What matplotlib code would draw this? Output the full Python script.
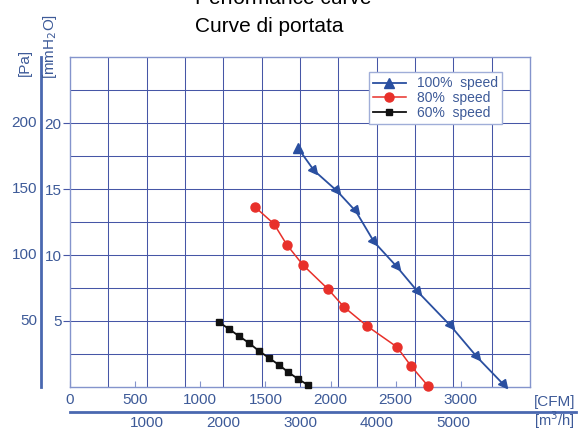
import numpy as np
import matplotlib.pyplot as plt
from matplotlib import transforms
from matplotlib.markers import MarkerStyle
from matplotlib.lines import Line2D

plt.rcParams['font.family'] = ['Liberation Sans', 'DejaVu Sans']

# flow in m3/h, pressure in mmH2O
x100 = [2974, 3183, 3483, 3730, 3965, 4265, 4539, 4970, 5309, 5661]
y100 = [18.1, 16.4, 14.85, 13.3, 11.0, 9.1, 7.2, 4.6, 2.27, 0.15]
x80 = [2413, 2661, 2830, 3039, 3365, 3574, 3874, 4265, 4448, 4670]
y80 = [13.64, 12.35, 10.76, 9.24, 7.42, 6.06, 4.62, 3.03, 1.59, 0.08]
x60 = [1943, 2074, 2204, 2335, 2465, 2596, 2726, 2843, 2974, 3104]
y60 = [4.92, 4.39, 3.86, 3.33, 2.73, 2.20, 1.67, 1.14, 0.61, 0.15]

mm_ticks = [5, 10, 15, 20]
pa_labels = ['50', '100', '150', '200']
cfm_ticks = [0, 500, 1000, 1500, 2000, 2500, 3000]
m3h_ticks = [1000, 2000, 3000, 4000, 5000]

grid_c = '#4656a6'
txt_c = '#3d5a98'
blue = '#2a4fa0'
red = '#e8302a'

fig = plt.figure(figsize=(5.79, 4.32), dpi=100)
ax = fig.add_axes([70/579, 1-387/432, 460/579, 330/432])

ax.set_xlim(0, 6000)
ax.set_ylim(0, 25)
ax.set_xticks(np.arange(500, 6000, 500), minor=True)
ax.set_xticks(m3h_ticks)
ax.set_yticks(np.arange(2.5, 25, 2.5), minor=True)
ax.set_yticks(mm_ticks)
ax.grid(True, which='both', color=grid_c, lw=0.75)
ax.set_axisbelow(True)
for s in ax.spines.values():
    s.set_color('#8494cc')
    s.set_linewidth(1.0)

ax.tick_params(axis='x', which='both', length=0, pad=21, labelsize=11, labelcolor=txt_c)
ax.tick_params(axis='y', which='major', length=5, width=0.8, color=grid_c, pad=1,
               labelsize=11, labelcolor=txt_c)
ax.tick_params(axis='y', which='minor', length=0)

sec = ax.secondary_xaxis('bottom', functions=(lambda v: v / 1.699, lambda v: v * 1.699))
sec.set_xticks(cfm_ticks)
sec.tick_params(direction='in', length=4, width=0.8, color='#8494cc', pad=4,
                labelsize=11, labelcolor=txt_c)
sec.spines['bottom'].set_visible(False)

# curves
ax.plot(x100, y100, '-', color=blue, lw=1.3, marker='^', ms=6.5, markevery=[0],
        label='100%  speed', zorder=3)
rot = MarkerStyle('^', transform=transforms.Affine2D().rotate_deg(-140))
ax.plot(x100[1:], y100[1:], ls='none', marker=rot, ms=6.5, color=blue, zorder=3,
        clip_on=False)
ax.plot(x80, y80, '-', color=red, lw=1.1, marker='o', ms=6.5, label='80%  speed',
        zorder=3, clip_on=False)
ax.plot(x60, y60, '-', color='#111111', lw=1.3, marker='s', ms=5, label='60%  speed',
        zorder=3, clip_on=False)

leg = ax.legend(loc='upper right', bbox_to_anchor=(0.955, 0.975), fontsize=10,
                labelspacing=0.05, handlelength=2.4, handletextpad=0.8,
                borderpad=0.3, fancybox=False, framealpha=1, labelcolor=txt_c)
leg.get_frame().set_edgecolor('#a0aed8')
leg.get_frame().set_linewidth(1.0)

# Pa scale on the far left
tr = transforms.blended_transform_factory(fig.transFigure, ax.transData)
for v, lab in zip(mm_ticks, pa_labels):
    ax.text(37/579, v, lab, transform=tr, ha='right', va='center',
            fontsize=11, color=txt_c)
fig.add_artist(Line2D([41/579, 41/579], [1-387/432, 1-57/432], color='#4a68b0',
                      lw=2, transform=fig.transFigure))
fig.add_artist(Line2D([70/579, 576/579], [1-412/432, 1-412/432], color='#4a68b0',
                      lw=2, transform=fig.transFigure))

fig.text(25/579, 1-62/432, '[Pa]', rotation=90, ha='center', va='center',
         fontsize=11, color=txt_c)
fig.text(50/579, 1-46/432, '[mmH$_2$O]', rotation=90, ha='center', va='center',
         fontsize=11, color=txt_c)
fig.text(575/579, 1-402/432, '[CFM]', ha='right', va='center', fontsize=11, color=txt_c)
fig.text(575/579, 1-420/432, '[m$^3$/h]', ha='right', va='center', fontsize=10.5,
         color=txt_c)

fig.text(195/579, 1-4/432, 'Performance curve', ha='left', va='baseline',
         fontsize=15, color='black')
fig.text(195/579, 1-32/432, 'Curve di portata', ha='left', va='baseline',
         fontsize=15, color='black')

fig.savefig('out.png', dpi=100)
